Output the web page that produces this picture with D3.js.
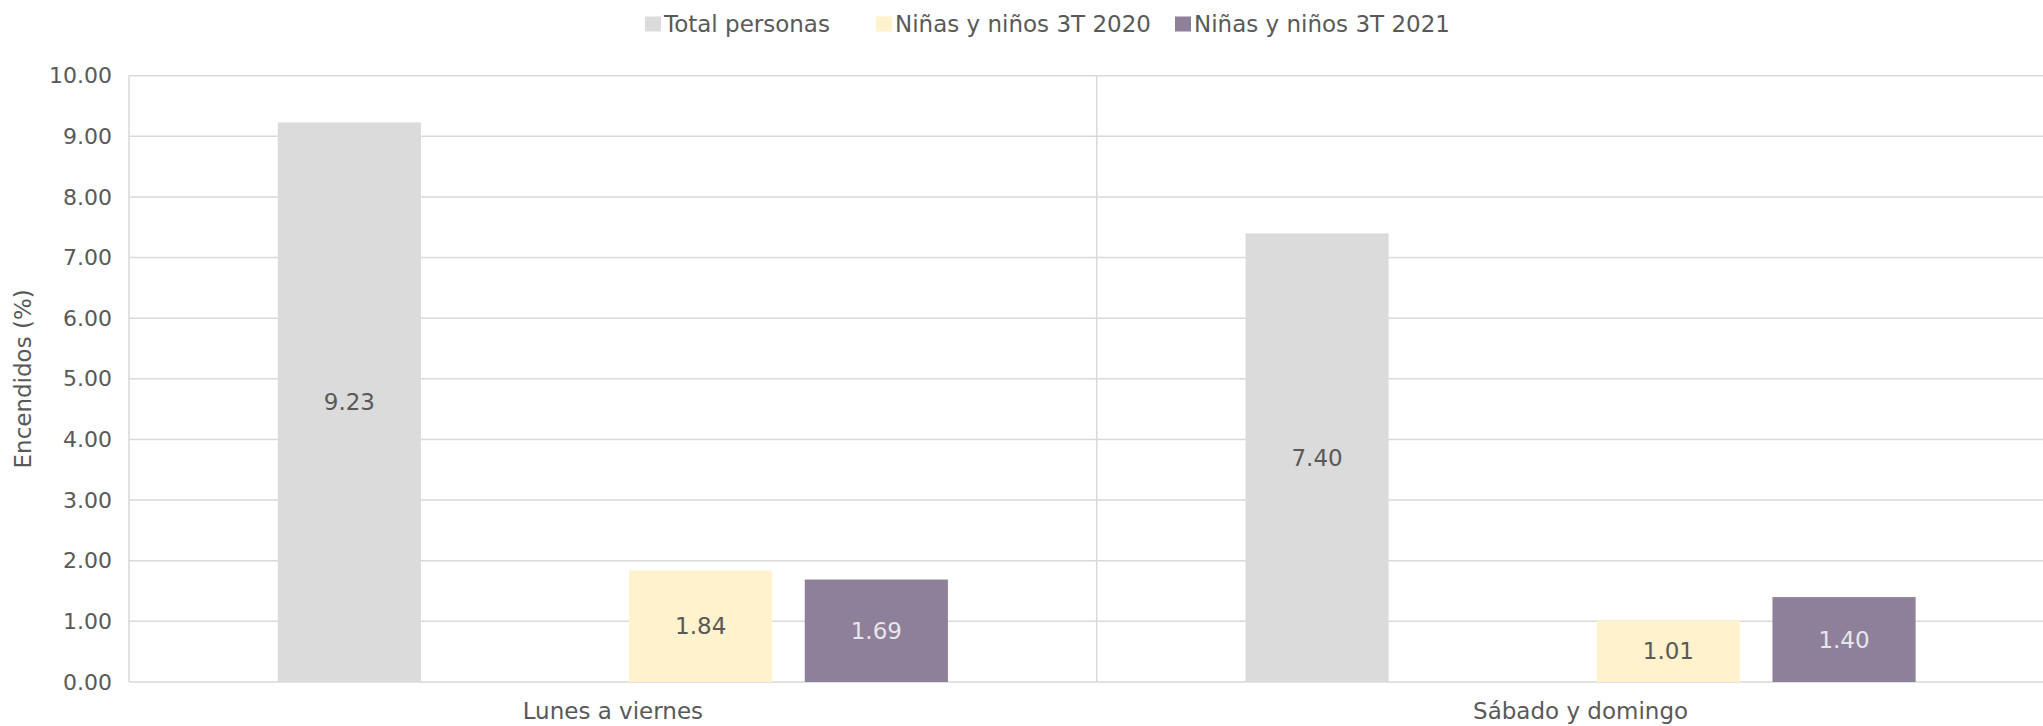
<!DOCTYPE html>
<html>
<head>
<meta charset="utf-8">
<script src="https://cdn.jsdelivr.net/npm/d3@7"></script>
<style>
  html, body { margin: 0; padding: 0; background: #ffffff; overflow: hidden; }
  svg { display: block; }
  text { font-family: "DejaVu Sans", "Liberation Sans", sans-serif; fill: #595959; }
</style>
</head>
<body>
<svg id="chart" width="2043" height="726"></svg>
<script>
// ---- data ----
const categories = ["Lunes a viernes", "Sábado y domingo"];
const seriesNames = ["Total personas", "(sin dato)", "Niñas y niños 3T 2020", "Niñas y niños 3T 2021"];
const seriesInLegend = [true, false, true, true];
const totalPersonas = [9.23, 7.40];
const emptySeries = [null, null];
const ninos2020 = [1.84, 1.01];
const ninos2021 = [1.69, 1.40];
const yTicks = [0, 1, 2, 3, 4, 5, 6, 7, 8, 9, 10];
const seriesColors = ["#dbdbdb", "#ffffff", "#fff2cc", "#8e7f9b"];
const labelColors = ["#595959", "#595959", "#595959", "#e8e8e8"];

const seriesValues = [totalPersonas, emptySeries, ninos2020, ninos2021];

// ---- layout ----
const svg = d3.select("#chart");
const plotLeft = 129, plotTop = 75.7, plotBottom = 682, catWidth = 967.7;
const FS = 23, FS_TICK = 22;

const x0 = d3.scaleBand().domain(categories).range([plotLeft, plotLeft + catWidth * categories.length]).padding(0);
const x1 = d3.scaleBand().domain(d3.range(seriesNames.length)).range([0, x0.bandwidth()])
  .paddingInner(0.185).paddingOuter(0.847);
const y = d3.scaleLinear().domain([0, 10]).range([plotBottom, plotTop]);

// gridlines
svg.append("g").selectAll("line").data(yTicks).join("line")
  .attr("x1", plotLeft).attr("x2", 2043)
  .attr("y1", d => y(d)).attr("y2", d => y(d))
  .attr("stroke", "#d9d9d9").attr("stroke-width", 1.5);

// left axis line and category separators
svg.append("g").selectAll("line").data(categories).join("line")
  .attr("x1", d => x0(d)).attr("x2", d => x0(d))
  .attr("y1", y(10)).attr("y2", y(0))
  .attr("stroke", "#d9d9d9").attr("stroke-width", 1.5);

// y axis tick labels via d3 axis
const yAxis = svg.append("g").attr("transform", `translate(${plotLeft},0)`)
  .call(d3.axisLeft(y).tickValues(yTicks).tickFormat(d3.format(".2f")).tickSize(0).tickPadding(17));
yAxis.select(".domain").remove();
yAxis.selectAll("text").attr("font-size", FS_TICK).style("font-family", null).attr("fill", "#595959");

// x axis labels
const xAxis = svg.append("g").attr("transform", `translate(0,${plotBottom})`)
  .call(d3.axisBottom(x0).tickSize(0).tickPadding(21));
xAxis.select(".domain").remove();
xAxis.selectAll("text").attr("font-size", FS).style("font-family", null).attr("fill", "#595959");

// bars
const rows = [];
categories.forEach((c, ci) => {
  seriesValues.forEach((vals, si) => {
    if (vals[ci] != null) rows.push({ cat: c, si, v: vals[ci] });
  });
});

svg.append("g").selectAll("rect").data(rows).join("rect")
  .attr("x", d => x0(d.cat) + x1(d.si))
  .attr("y", d => y(d.v))
  .attr("width", x1.bandwidth())
  .attr("height", d => y(0) - y(d.v))
  .attr("fill", d => seriesColors[d.si]);

// data labels
svg.append("g").selectAll("text").data(rows).join("text")
  .attr("x", d => x0(d.cat) + x1(d.si) + x1.bandwidth() / 2)
  .attr("y", d => (y(d.v) + y(0)) / 2)
  .attr("text-anchor", "middle").attr("dominant-baseline", "central")
  .attr("font-size", FS)
  .style("fill", d => labelColors[d.si])
  .text(d => d3.format(".2f")(d.v));

// y axis title
svg.append("text")
  .attr("transform", `translate(23,${(plotTop + plotBottom) / 2}) rotate(-90)`)
  .attr("text-anchor", "middle").attr("dominant-baseline", "central")
  .attr("font-size", FS)
  .text("Encendidos (%)");

// legend
const legendItems = seriesNames.map((n, i) => ({ n, i })).filter(d => seriesInLegend[d.i]);
const legendX = [645, 876, 1175];
const lg = svg.append("g").selectAll("g").data(legendItems).join("g")
  .attr("transform", (d, k) => `translate(${legendX[k]},24)`);
lg.append("rect").attr("x", 0).attr("y", -7.5).attr("width", 16).attr("height", 15)
  .attr("fill", d => seriesColors[d.i]);
lg.append("text").attr("x", 19).attr("y", 0).attr("dominant-baseline", "central")
  .attr("font-size", FS).text(d => d.n);
</script>
</body>
</html>
